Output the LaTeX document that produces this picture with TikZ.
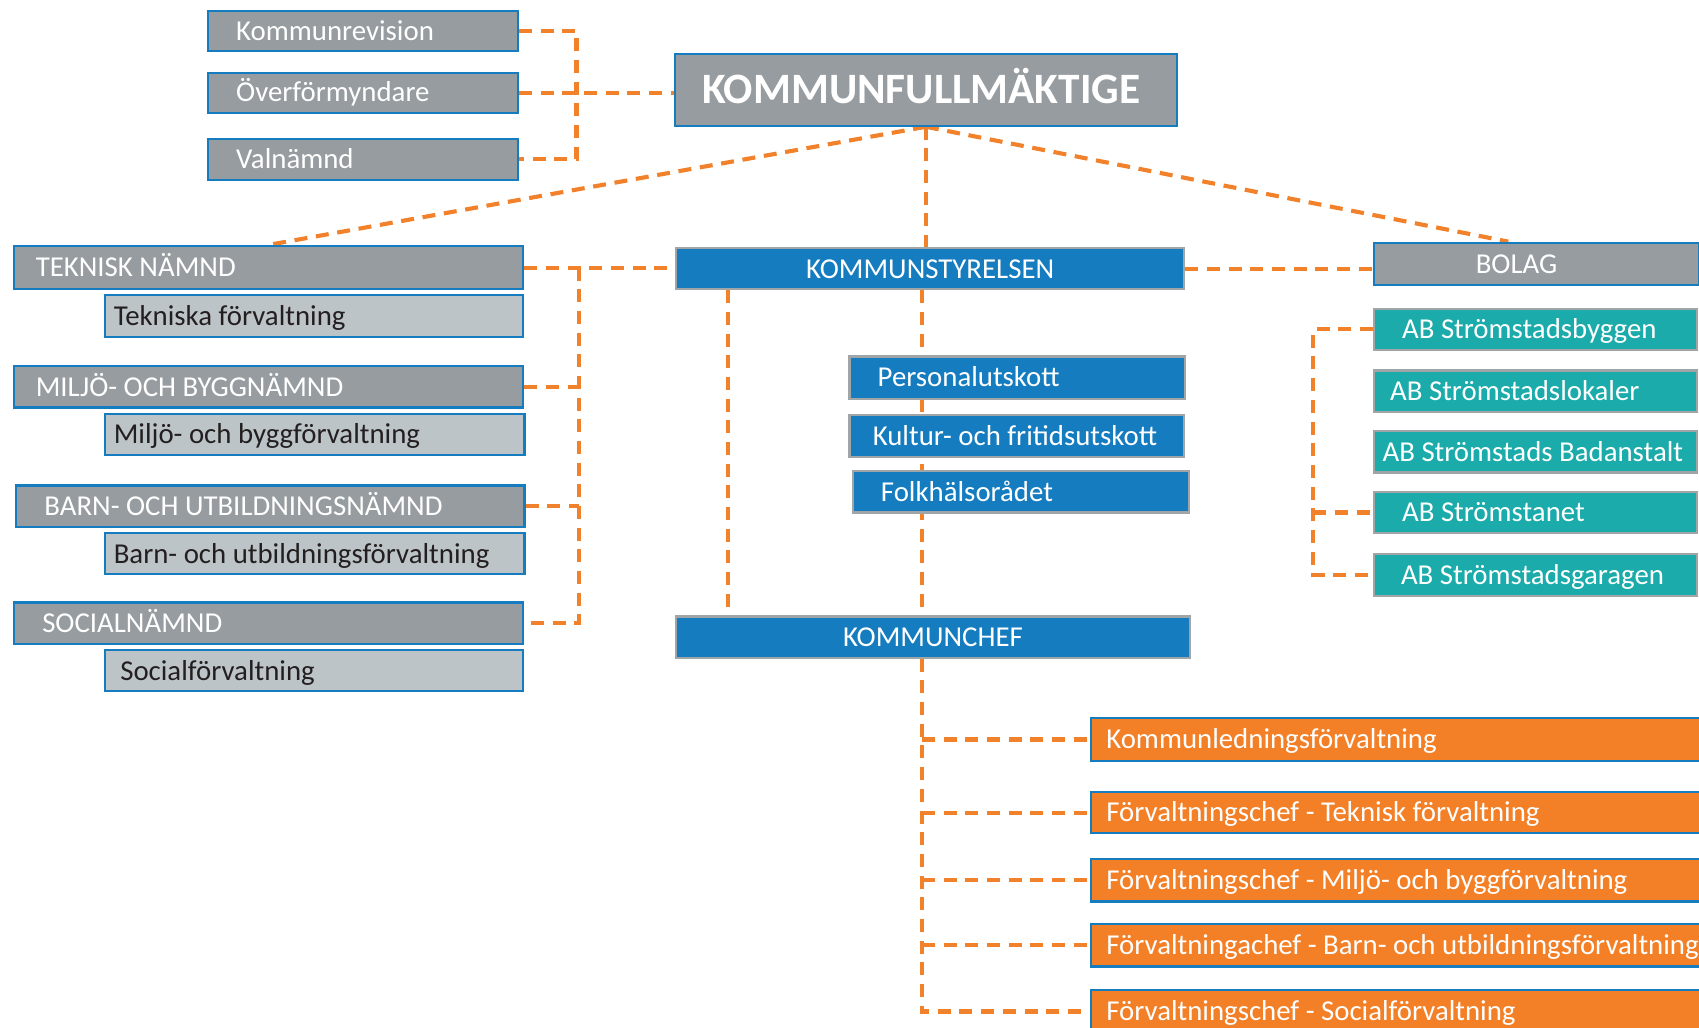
\documentclass[tikz,border=0pt]{standalone}
\usepackage{fontspec}
\setmainfont{Carlito}
\usetikzlibrary{positioning,backgrounds}

\definecolor{kgray}{RGB}{150,156,159}
\definecolor{klight}{RGB}{189,196,199}
\definecolor{kblue}{RGB}{21,124,191}
\definecolor{kedge}{RGB}{160,165,168}
\definecolor{kteal}{RGB}{26,171,170}
\definecolor{korange}{RGB}{243,127,38}
\definecolor{kline}{RGB}{241,129,42}
\definecolor{kdark}{RGB}{35,31,32}

\tikzset{
  box/.style={rectangle, draw, anchor=north west, line width=1pt, inner ysep=0pt,
    align=flush left, font=\fontsize{13.3}{15}\selectfont, text height=8.6pt, text depth=0pt,
    text=white},
  gbox/.style={box, fill=kgray, draw=kblue},
  sbox/.style={gbox, minimum height=18.5pt, text width=117pt, inner xsep=13pt},
  nbox/.style={gbox, minimum height=19pt, text width=215pt, inner xsep=10pt},
  lbox/.style={box, fill=klight, draw=kblue, text=kdark, minimum height=19pt,
    text width=185pt, inner xsep=4pt},
  bbox/.style={box, fill=kblue, draw=kedge, minimum height=19pt},
  ubox/.style={bbox, minimum height=19.5pt, text width=129pt, inner xsep=13pt},
  tbox/.style={box, fill=kteal, draw=kedge, minimum height=19pt, text width=123pt,
    inner xsep=13pt},
  obox/.style={box, fill=korange, draw=kblue, minimum height=19.5pt, text width=286pt,
    inner xsep=7pt},
  conn/.style={draw=kline, line width=1.9pt, dash pattern=on 6pt off 4pt},
}

\begin{document}
\begin{tikzpicture}[x=0.5pt, y=-0.5pt]
\useasboundingbox (0,0) rectangle (1568,948);

% council and the boards under it
\node[gbox, minimum height=33pt, text width=206.5pt, inner xsep=12.5pt,
  font=\bfseries\fontsize{20}{24}\selectfont, text height=12.9pt] (kf) at (622,49) {KOMMUNFULLMÄKTIGE};
\node[sbox] (rev) at (191,9) {Kommunrevision};
\node[sbox] (overf) at (191,66) {Överförmyndare};
\node[sbox, minimum height=19pt] (valn) at (191,127) {Valnämnd};

% committees (left)
\node[nbox, minimum height=20pt] (tekn) at (12,226) {TEKNISK NÄMND};
\node[lbox, minimum height=19.5pt] (tekf) at (96,271) {Tekniska förvaltning};
\node[nbox] (miln) at (12,337) {MILJÖ- OCH BYGGNÄMND};
\node[lbox, text width=185.5pt] (milf) at (96,381) {Miljö- och byggförvaltning};
\node[nbox, text width=208.5pt, inner xsep=13pt] (barnn) at (14,447) {BARN- OCH UTBILDNINGSNÄMND};
\node[lbox, text width=185.5pt] (barnf) at (96,491) {Barn- och utbildningsförvaltning};
\node[nbox, text width=209pt, inner xsep=13pt] (socn) at (12,555) {SOCIALNÄMND};
\node[lbox, text width=179pt, inner xsep=7pt] (socf) at (96,599) {Socialförvaltning};

% executive board
\node[bbox, text width=224.5pt, inner xsep=5pt, align=flush center] (ks) at (623,228) {KOMMUNSTYRELSEN};
\node[ubox] (pers) at (783,328) {Personalutskott};
\node[ubox, text width=133pt, inner xsep=10.75pt] (kult) at (783,382) {Kultur- och fritidsutskott};
\node[ubox, minimum height=19pt] (folk) at (786,434) {Folkhälsorådet};
\node[bbox, text width=227pt, inner xsep=5pt, align=flush center] (kc) at (623,568) {KOMMUNCHEF};

% companies
\node[gbox, minimum height=19.5pt, text width=56pt, inner xsep=47pt] (bolag) at (1267,223) {BOLAG};
\node[tbox] (ab1) at (1267,284) {AB Strömstadsbyggen};
\node[tbox, text width=134pt, inner xsep=7.5pt] (ab2) at (1267,341) {AB Strömstadslokaler};
\node[tbox, text width=141pt, inner xsep=4pt] (ab3) at (1267,397) {AB Strömstads Badanstalt};
\node[tbox] (ab4) at (1267,453) {AB Strömstanet};
\node[tbox, minimum height=19.5pt, text width=124pt, inner xsep=12.5pt] (ab5) at (1267,510) {AB Strömstadsgaragen};

% administrations
\node[obox] (fv1) at (1006,662) {Kommunledningsförvaltning};
\node[obox, minimum height=19pt] (fv2) at (1006,730) {Förvaltningschef - Teknisk förvaltning};
\node[obox] (fv3) at (1006,792) {Förvaltningschef - Miljö- och byggförvaltning};
\node[obox] (fv4) at (1006,852) {Förvaltningachef - Barn- och utbildningsförvaltning};
\node[obox] (fv5) at (1006,913) {Förvaltningschef - Socialförvaltning};

\coordinate (lx) at (534,0);
\coordinate (kx) at (672,0);
\coordinate (ax) at (851,0);
\coordinate (bx) at (1212,0);

\begin{scope}[on background layer]
  \draw[conn] (rev.east) -- ++(53,0) |- (valn.east);
  \draw[conn] (overf.east) -- (overf.east -| kf.west);
  \draw[conn] (kf.south) -- (tekn.north);
  \draw[conn] (kf.south) -- (kf.south |- ks.north);
  \draw[conn] (kf.south) -- ([xshift=-13pt]bolag.north);
  \draw[conn] (tekn.east) -- (tekn.east -| ks.west);
  \draw[conn] (tekn.east -| lx) |- (socn.east);
  \draw[conn] (miln.east) -- (miln.east -| lx);
  \draw[conn] (barnn.east) -- (barnn.east -| lx);
  \draw[conn] (ks.east) -- (ks.east -| bolag.west);
  \draw[conn] (ks.south -| kx) -- (kc.north -| kx);
  \draw[conn] (ks.south -| ax) -- (kc.north -| ax);
  \draw[conn] (ab1.west) -- (ab1.west -| bx) |- (ab5.west);
  \draw[conn] (ab4.west -| bx) -- (ab4.west);
  \draw[conn] (kc.south -| ax) |- (fv5.west);
  \foreach \f in {fv1,fv2,fv3,fv4}
    \draw[conn] (\f.west -| ax) -- (\f.west);
\end{scope}

\end{tikzpicture}
\end{document}
